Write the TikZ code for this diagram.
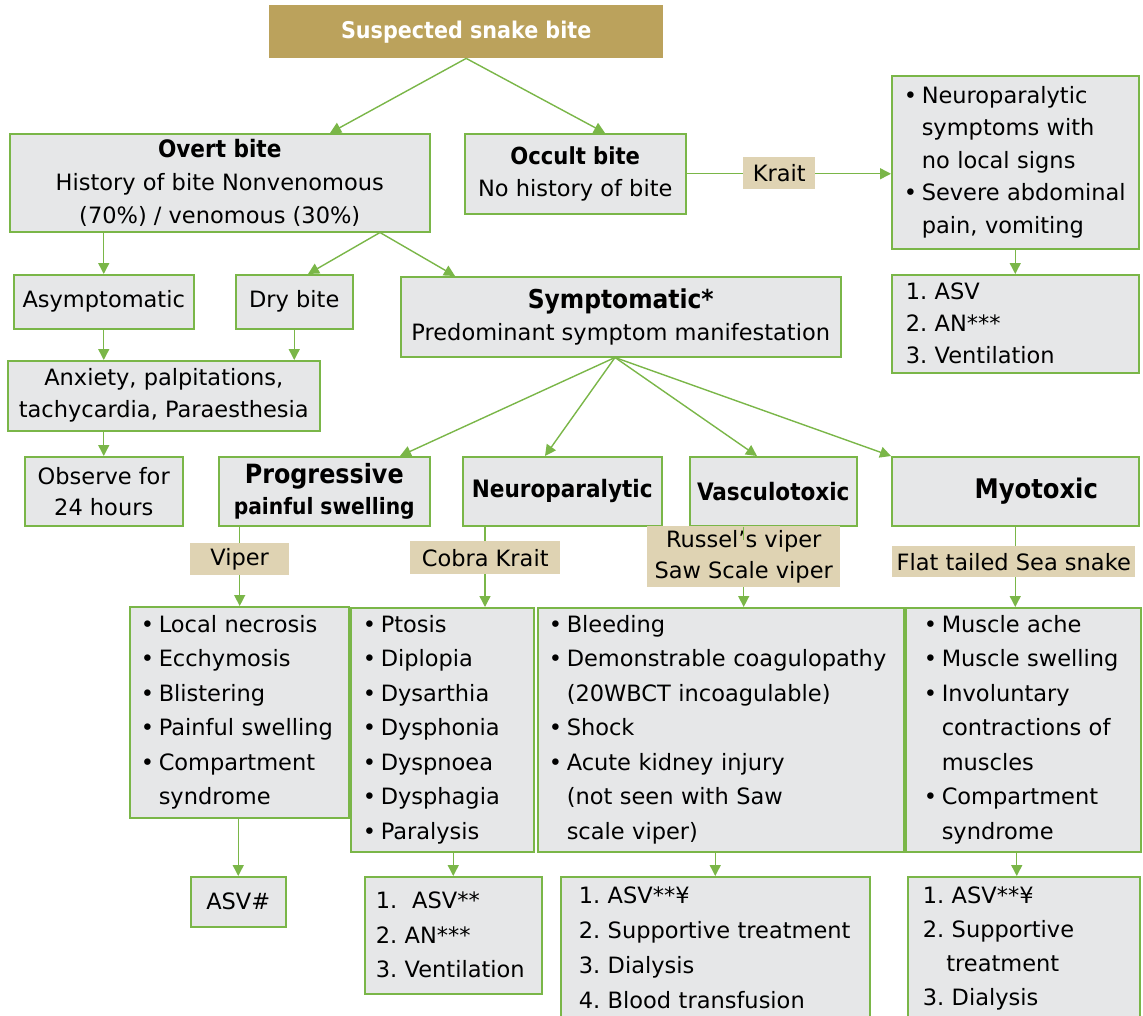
\documentclass[tikz,border=0pt]{standalone}
\usepackage{fontspec}
\setmainfont{DejaVu Sans}[BoldFont={DejaVu Sans Condensed Bold}]
\usepackage{xcolor}
\usepackage{tikz}
\usetikzlibrary{arrows.meta, positioning}
\frenchspacing

\definecolor{boxgray}{HTML}{E6E7E8}
\definecolor{boxgreen}{HTML}{7AB648}
\definecolor{tagtan}{HTML}{DFD3B3}
\definecolor{topgold}{HTML}{BBA25C}

\newcommand{\bul}[1]{\mbox{\makebox[0.8em][l]{\textbullet}#1}}
\newcommand{\cont}[1]{\mbox{\hspace*{0.8em}#1}}
\newcommand{\bigb}[2]{{\fontsize{#1}{34}\selectfont\bfseries #2}}

\begin{document}
\begin{tikzpicture}[x=1pt, y=-1pt,
    every node/.style={font=\fontsize{22.5}{34.5}\selectfont, inner sep=0pt, anchor=north west},
    gbox/.style={draw=boxgreen, fill=boxgray, line width=1.5pt, align=center},
    lbox/.style={gbox, align=left},
    tag/.style={fill=tagtan, align=center},
    topbox/.style={fill=topgold, text=white, font=\fontsize{23}{34.5}\selectfont\bfseries},
    arr/.style={draw=boxgreen, line width=1.4pt, -{Triangle[length=11pt,width=11pt]}},
    ln/.style={draw=boxgreen, line width=1.4pt}]
  \useasboundingbox (0,0) rectangle (1143,1015);

  % top level
  \node[topbox, minimum width=394pt, minimum height=53pt] (susp) at (269,5) {Suspected snake bite};
  \node[gbox, minimum width=420pt, minimum height=98pt, font=\fontsize{22.5}{33}\selectfont] (overt) at (9,133)
    {\bigb{24}{Overt bite}\\History of bite Nonvenomous\\(70\%) / venomous (30\%)};
  \node[gbox, minimum width=221pt, minimum height=80pt, font=\fontsize{22.5}{32}\selectfont] (occult) at (464,133)
    {\bigb{23.5}{Occult bite}\\No history of bite};
  \node[tag, minimum width=72pt, minimum height=32pt] (ktag) at (743,157) {Krait};
  \node[lbox, minimum height=173pt, text width=223pt, inner xsep=12pt, font=\fontsize{22.5}{32.5}\selectfont] (kbox) at (891,75)
    {\bul{Neuroparalytic}\\\cont{symptoms with}\\\cont{no local signs}\\\bul{Severe abdominal}\\\cont{pain, vomiting}};
  \node[lbox, minimum height=98pt, text width=219pt, inner xsep=14pt, font=\fontsize{22.5}{32}\selectfont] (ktreat) at (891,274)
    {1. ASV\\2. AN***\\3. Ventilation};

  % second level
  \node[gbox, minimum width=180pt, minimum height=54pt] (asym) at (13,274) {Asymptomatic};
  \node[gbox, minimum width=117pt, minimum height=54pt] (dry) at (235,274) {Dry bite};
  \node[gbox, minimum width=440pt, minimum height=80pt, font=\fontsize{22.5}{32}\selectfont] (symp) at (400,276)
    {\bigb{26}{Symptomatic*}\\Predominant symptom manifestation};
  \node[gbox, minimum width=312pt, minimum height=70pt, font=\fontsize{22.5}{32}\selectfont] (anx) at (7,360)
    {Anxiety, palpitations,\\tachycardia, Paraesthesia};
  \node[gbox, minimum width=158pt, minimum height=69pt, font=\fontsize{22.5}{31}\selectfont] (observe) at (24,456)
    {Observe for\\24 hours};

  % syndromes
  \node[gbox, minimum width=211pt, minimum height=69pt, font=\fontsize{22.5}{31}\selectfont] (prog) at (218,456)
    {\bigb{26.5}{Progressive}\\\textbf{painful swelling}};
  \node[gbox, minimum width=199pt, minimum height=69pt] (neuro) at (462,456) {\bigb{24}{Neuroparalytic}};
  \node[gbox, minimum width=167pt, minimum height=69pt] (vasc) at (689,456) {\bigb{24}{Vasculotoxic}};
  \node[gbox, minimum width=247pt, minimum height=69pt] (myo) at (891,456) {\hspace*{42pt}\bigb{27}{Myotoxic}};

  % snakes
  \node[tag, minimum width=99pt, minimum height=32pt] (vtag) at (190,543) {Viper};
  \node[tag, minimum width=150pt, minimum height=33pt] (ctag) at (410,541) {Cobra Krait};
  \node[tag, minimum width=193pt, minimum height=61pt, font=\fontsize{22.5}{31}\selectfont] (rtag) at (647,526)
    {Russel’s viper\\Saw Scale viper};
  \node[tag, minimum width=243pt, minimum height=31pt] (stag) at (892,546) {Flat tailed Sea snake};

  % features
  \node[lbox, minimum height=211pt, text width=197pt, inner xsep=11pt] (vlist) at (129,606)
    {\bul{Local necrosis}\\\bul{Ecchymosis}\\\bul{Blistering}\\\bul{Painful swelling}\\\bul{Compartment}\\\cont{syndrome}};
  \node[lbox, minimum height=244pt, text width=159pt, inner xsep=12pt] (nlist) at (350,607)
    {\bul{Ptosis}\\\bul{Diplopia}\\\bul{Dysarthia}\\\bul{Dysphonia}\\\bul{Dyspnoea}\\\bul{Dysphagia}\\\bul{Paralysis}};
  \node[lbox, minimum height=244pt, text width=344pt, inner xsep=11pt] (clist) at (537,607)
    {\bul{Bleeding}\\\bul{Demonstrable coagulopathy}\\\cont{(20WBCT incoagulable)}\\\bul{Shock}\\\bul{Acute kidney injury}\\\cont{(not seen with Saw}\\\cont{scale viper)}};
  \node[lbox, minimum height=244pt, text width=199pt, inner xsep=18pt] (mlist) at (905,607)
    {\bul{Muscle ache}\\\bul{Muscle swelling}\\\bul{Involuntary}\\\cont{contractions of}\\\cont{muscles}\\\bul{Compartment}\\\cont{syndrome}};

  % treatment
  \node[gbox, minimum width=95pt, minimum height=50pt] (asv) at (190,876) {ASV\#};
  \node[lbox, minimum height=117pt, text width=155pt, inner xsep=11pt] (ntreat) at (364,876)
    {1.\ \ ASV**\\2. AN***\\3. Ventilation};
  \node[lbox, minimum height=143pt, text width=273pt, inner xsep=18pt, font=\fontsize{22.5}{35}\selectfont] (ctreat) at (560,876)
    {\mbox{1. ASV**¥}\\\mbox{2. Supportive treatment}\\\mbox{3. Dialysis}\\\mbox{4. Blood transfusion}};
  \node[lbox, minimum height=143pt, text width=202pt, inner xsep=15pt, font=\fontsize{22.5}{34}\selectfont] (mtreat) at (907,876)
    {\mbox{1. ASV**¥}\\\mbox{2. Supportive}\\\mbox{\hspace*{1.05em}treatment}\\\mbox{3. Dialysis}};

  % connectors
  \draw[arr] (susp.south) -- ([xshift=321pt]overt.north west);
  \draw[arr] (susp.south) -- ([xshift=141pt]occult.north west);
  \draw[ln] (occult.east) -- (occult.east -| ktag.west);
  \draw[arr] (ktag.east |- occult.east) -- (occult.east -| kbox.west);
  \draw[arr] (kbox.south) -- (ktreat.north);
  \draw[arr] (asym.north |- overt.south) -- (asym.north);
  \draw[arr] ([xshift=371pt]overt.south west) -- ([xshift=73pt]dry.north west);
  \draw[arr] ([xshift=371pt]overt.south west) -- ([xshift=55pt]symp.north west);
  \draw[arr] (asym.south) -- (asym.south |- anx.north);
  \draw[arr] (dry.south) -- (dry.south |- anx.north);
  \draw[arr] (observe.north |- anx.south) -- (observe.north);
  \draw[arr] ([xshift=215pt]symp.south west) -- ([xshift=182pt]prog.north west);
  \draw[arr] ([xshift=215pt]symp.south west) -- ([xshift=83pt]neuro.north west);
  \draw[arr] ([xshift=215pt]symp.south west) -- ([xshift=68pt]vasc.north west);
  \draw[arr] ([xshift=215pt]symp.south west) -- (myo.north west);
  \draw[ln] (vtag.north |- prog.south) -- (vtag.north);
  \draw[arr] (vtag.south) -- (vtag.south |- vlist.north);
  \draw[ln] ([xshift=75pt]ctag.north west |- neuro.south) -- ([xshift=75pt]ctag.north west);
  \draw[arr] ([xshift=75pt]ctag.south west) -- ([xshift=75pt]ctag.south west |- nlist.north);
  \draw[ln] (rtag.north |- vasc.south) -- ([yshift=-14pt]rtag.north);
  \draw[arr] (rtag.south) -- (rtag.south |- clist.north);
  \draw[ln] (myo.south) -- (stag.north -| myo.south);
  \draw[arr] (stag.south -| myo.south) -- (myo.south |- mlist.north);
  \draw[arr] (asv.north |- vlist.south) -- (asv.north);
  \draw[arr] (ntreat.north |- nlist.south) -- (ntreat.north);
  \draw[arr] (ctreat.north |- clist.south) -- (ctreat.north);
  \draw[arr] ([xshift=-7pt]mtreat.north |- mlist.south) -- ([xshift=-7pt]mtreat.north);
\end{tikzpicture}
\end{document}
